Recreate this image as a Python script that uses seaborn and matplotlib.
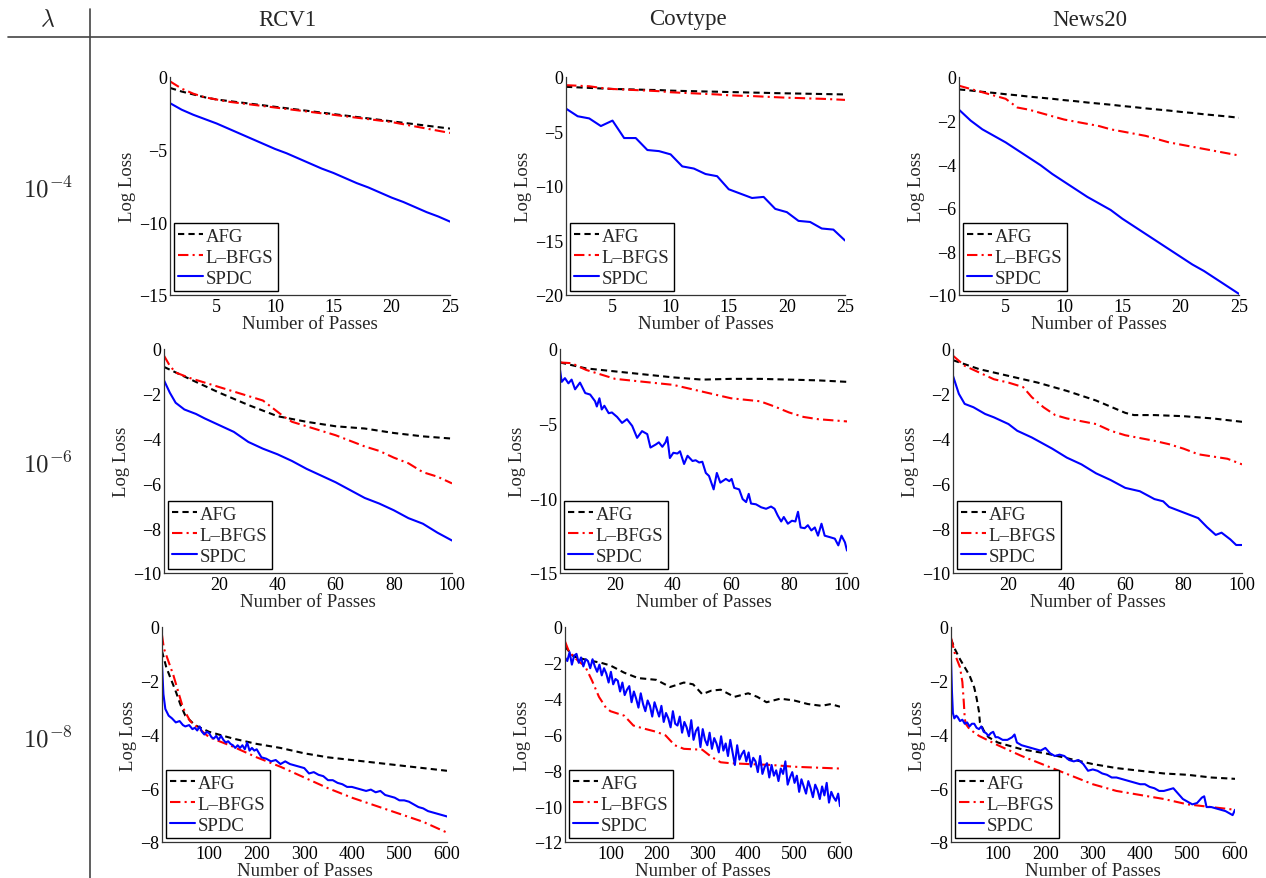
import numpy as np
import pandas as pd
import matplotlib
matplotlib.use("Agg")
import matplotlib.pyplot as plt
from matplotlib.lines import Line2D
import seaborn as sns

sns.set_theme(style="white")
plt.rcParams["font.family"] = ["Liberation Serif", "DejaVu Serif"]
plt.rcParams["mathtext.fontset"] = "cm"

# --- labels ---
datasets = ["RCV1", "Covtype", "News20"]
lambda_labels = [r"$10^{-4}$", r"$10^{-6}$", r"$10^{-8}$"]
methods = ["AFG", "L–BFGS", "SPDC"]
colors = {"AFG": "#000000", "L–BFGS": "#ff0000", "SPDC": "#0000ff"}
dashes = {"AFG": (3, 2), "L–BFGS": (5, 2, 1, 2), "SPDC": ""}

# --- lambda = 1e-4 (passes 1..25) ---
x_25 = list(range(1, 26))
rcv1_4_afg = [-0.75, -1.0, -1.2, -1.4, -1.55, -1.65, -1.75, -1.85, -1.95, -2.05, -2.15, -2.25, -2.35,
              -2.45, -2.55, -2.65, -2.75, -2.85, -2.95, -3.05, -3.15, -3.25, -3.35, -3.45, -3.55]
rcv1_4_lbfgs = [-0.3, -0.8, -1.15, -1.4, -1.55, -1.7, -1.8, -1.9, -2.0, -2.1, -2.2, -2.3, -2.4,
                -2.5, -2.6, -2.7, -2.8, -2.9, -3.0, -3.1, -3.25, -3.4, -3.55, -3.7, -3.85]
rcv1_4_spdc = [-1.8, -2.25, -2.6, -2.9, -3.2, -3.55, -3.9, -4.25, -4.6, -4.95, -5.25, -5.6, -5.95,
               -6.3, -6.6, -6.95, -7.3, -7.6, -7.95, -8.3, -8.6, -8.95, -9.3, -9.6, -9.95]
cov_4_afg = [-0.9, -0.95, -1.0, -1.05, -1.1, -1.12, -1.15, -1.18, -1.2, -1.25, -1.28, -1.3, -1.33,
             -1.35, -1.38, -1.4, -1.43, -1.45, -1.48, -1.5, -1.52, -1.54, -1.56, -1.58, -1.6]
cov_4_lbfgs = [-0.75, -0.8, -0.85, -1.0, -1.1, -1.15, -1.2, -1.25, -1.3, -1.4, -1.45, -1.5, -1.55,
               -1.6, -1.68, -1.72, -1.75, -1.8, -1.85, -1.9, -1.93, -1.97, -2.0, -2.05, -2.1]
cov_4_spdc = [-2.9, -3.6, -3.8, -4.5, -4.0, -5.6, -5.6, -6.7, -6.8, -7.1, -8.2, -8.4, -8.9,
              -9.1, -10.3, -10.7, -11.1, -11.0, -12.1, -12.4, -13.2, -13.3, -13.9, -14.0, -15.0]
news_4_afg = [-0.57, -0.62, -0.68, -0.73, -0.79, -0.84, -0.9, -0.95, -1.0, -1.06, -1.11, -1.17, -1.22,
              -1.27, -1.33, -1.38, -1.44, -1.49, -1.54, -1.6, -1.65, -1.71, -1.76, -1.81, -1.87]
news_4_lbfgs = [-0.4, -0.55, -0.7, -0.85, -1.0, -1.4, -1.5, -1.65, -1.8, -1.95, -2.05, -2.15, -2.25,
                -2.4, -2.5, -2.6, -2.7, -2.85, -3.0, -3.1, -3.2, -3.3, -3.4, -3.5, -3.6]
news_4_spdc = [-1.5, -2.0, -2.4, -2.7, -3.0, -3.35, -3.7, -4.05, -4.45, -4.8, -5.15, -5.5, -5.8,
               -6.1, -6.5, -6.85, -7.2, -7.55, -7.9, -8.25, -8.6, -8.9, -9.25, -9.6, -9.95]

# --- lambda = 1e-6 (passes 1..100) ---
rcv1_6_afg_x = [1, 10, 20, 30, 40, 50, 60, 70, 80, 90, 100]
rcv1_6_afg = [-0.8, -1.35, -1.95, -2.5, -3.0, -3.25, -3.45, -3.55, -3.75, -3.9, -4.0]
rcv1_6_lbfgs_x = [1, 3, 5, 10, 15, 20, 25, 30, 35, 38, 42, 45, 50, 55, 60, 65, 70, 75, 80, 85, 90, 95, 100]
rcv1_6_lbfgs = [-0.3, -0.75, -1.05, -1.3, -1.5, -1.7, -1.9, -2.1, -2.3, -2.6, -3.0, -3.25, -3.45,
                -3.65, -3.85, -4.1, -4.35, -4.55, -4.85, -5.1, -5.5, -5.7, -6.0]
rcv1_6_spdc_x = [1, 3, 5, 8, 12, 15, 20, 25, 30, 35, 40, 45, 50, 55, 60, 65, 70, 75, 80, 85, 90, 95, 100]
rcv1_6_spdc = [-1.4, -1.95, -2.4, -2.7, -2.9, -3.1, -3.4, -3.7, -4.15, -4.45, -4.7, -5.0, -5.35,
               -5.65, -5.95, -6.3, -6.65, -6.9, -7.2, -7.55, -7.8, -8.2, -8.55]
cov_6_afg_x = [1, 10, 20, 30, 40, 50, 60, 70, 80, 90, 100]
cov_6_afg = [-0.9, -1.3, -1.5, -1.7, -1.9, -2.05, -2.0, -2.0, -2.05, -2.1, -2.2]
cov_6_lbfgs_x = [1, 5, 10, 20, 30, 40, 50, 60, 70, 75, 80, 85, 90, 100]
cov_6_lbfgs = [-0.9, -0.95, -1.4, -2.0, -2.2, -2.4, -2.85, -3.3, -3.5, -3.85, -4.25, -4.55, -4.7, -4.85]
cov_6_spdc_x = [1, 1.6, 2.7, 3.9, 5, 6.2, 7.9, 9.7, 11.4, 13.1, 13.7, 14.6, 15.4, 16.3, 17.8, 18.9,
                20.7, 22.4, 24.1, 25.9, 27.6, 29.3, 31.1, 32.2, 34, 35.1, 36.3, 37.4, 38, 38.9, 40.1,
                41.5, 42.4, 43.8, 45, 46.7, 47.8, 49, 50.1, 51.3, 52.4, 54, 55.1, 56.3, 58.2, 59.4,
                60.2, 61.1, 62.8, 64, 65.2, 66.1, 66.9, 68.6, 70.4, 72.1, 73.8, 75, 76.1, 77.3, 78.2,
                79.6, 81, 82.2, 83.1, 84, 85.4, 86.5, 87.7, 88.9, 90, 91.2, 92.3, 94.1, 95.8, 97,
                98.1, 99.3, 100]
cov_6_spdc = [-1.4, -2.2, -1.95, -2.3, -2.05, -2.7, -2.25, -2.95, -3.05, -3.5, -3.85, -3.3, -4.05,
              -3.8, -4.3, -4.25, -4.55, -4.95, -4.7, -5.15, -5.95, -5.5, -5.7, -6.6, -6.4, -6.25,
              -6.55, -6.25, -5.9, -7.3, -6.95, -7.0, -6.85, -7.7, -7.15, -7.5, -7.45, -7.6, -7.55,
              -8.3, -8.5, -9.4, -8.3, -8.95, -8.7, -8.85, -8.7, -9.3, -9.4, -10.05, -10.25, -9.7,
              -10.35, -10.4, -10.6, -10.7, -10.55, -10.7, -11.15, -11.55, -11.25, -11.7, -11.5,
              -11.55, -10.9, -11.95, -12.0, -11.8, -12.15, -11.95, -12.5, -11.7, -12.5, -12.6,
              -12.7, -13.15, -12.5, -12.95, -13.5]
news_6_afg_x = [1, 10, 20, 30, 40, 50, 60, 63, 70, 80, 90, 100]
news_6_afg = [-0.5, -0.9, -1.2, -1.5, -1.87, -2.3, -2.85, -2.95, -2.95, -3.0, -3.1, -3.25]
news_6_lbfgs_x = [1, 5, 10, 15, 20, 25, 28, 32, 36, 40, 50, 55, 60, 70, 75, 80, 85, 90, 95, 100]
news_6_lbfgs = [-0.3, -0.75, -1.05, -1.35, -1.5, -1.7, -2.15, -2.6, -2.95, -3.1, -3.35, -3.65, -3.85,
                -4.1, -4.25, -4.45, -4.7, -4.8, -4.9, -5.15]
news_6_spdc_x = [1, 3, 5, 8, 12, 15, 20, 23, 28, 35, 40, 45, 50, 55, 60, 65, 70, 73, 75, 80, 85, 88,
                 91, 93, 96, 98, 100]
news_6_spdc = [-1.2, -2.0, -2.45, -2.6, -2.9, -3.05, -3.35, -3.65, -3.95, -4.45, -4.85, -5.15, -5.55,
               -5.85, -6.2, -6.35, -6.7, -6.8, -7.05, -7.3, -7.55, -7.95, -8.3, -8.2, -8.5, -8.75, -8.75]

# --- lambda = 1e-8 (passes 1..600) ---
rcv1_8_afg_x = [1, 10, 20, 30, 40, 50, 70, 100, 150, 200, 250, 300, 350, 400, 450, 500, 550, 600]
rcv1_8_afg = [-0.9, -1.5, -1.95, -2.4, -2.9, -3.3, -3.65, -3.9, -4.15, -4.35, -4.5, -4.7, -4.85,
              -4.95, -5.05, -5.15, -5.25, -5.35]
rcv1_8_lbfgs_x = [1, 5, 15, 25, 35, 45, 60, 80, 100, 150, 200, 250, 300, 350, 400, 450, 500, 550, 600]
rcv1_8_lbfgs = [-0.3, -0.8, -1.3, -1.8, -2.4, -3.0, -3.5, -3.8, -4.1, -4.45, -4.85, -5.2, -5.6, -6.0,
                -6.35, -6.65, -6.95, -7.25, -7.65]
rcv1_8_spdc_x = [1, 4, 8, 15, 22, 30, 38, 45, 50, 58, 65, 70, 75, 80, 85, 90, 95, 100, 105, 110, 115,
                 120, 125, 130, 135, 140, 145, 150, 155, 160, 165, 170, 175, 180, 185, 190, 195, 200,
                 210, 220, 230, 240, 250, 260, 270, 280, 290, 300, 310, 320, 330, 340, 350, 360, 370,
                 380, 390, 400, 410, 420, 430, 440, 450, 460, 470, 480, 490, 500, 510, 520, 530, 540,
                 550, 560, 570, 580, 590, 600]
rcv1_8_spdc = [-1.4, -2.5, -3.05, -3.3, -3.4, -3.55, -3.5, -3.65, -3.7, -3.65, -3.8, -3.75, -3.85,
               -3.7, -3.9, -4.0, -3.9, -3.95, -4.1, -4.15, -4.05, -4.2, -4.05, -4.2, -4.3, -4.25,
               -4.35, -4.4, -4.5, -4.4, -4.5, -4.4, -4.55, -4.3, -4.6, -4.5, -4.6, -4.55, -4.85,
               -4.9, -5.0, -4.95, -5.1, -5.0, -5.1, -5.15, -5.2, -5.25, -5.45, -5.4, -5.5, -5.55,
               -5.7, -5.7, -5.8, -5.85, -5.95, -5.95, -6.0, -6.05, -6.1, -6.05, -6.15, -6.1, -6.25,
               -6.3, -6.35, -6.45, -6.45, -6.5, -6.6, -6.7, -6.75, -6.85, -6.9, -6.95, -7.0, -7.05]
cov_8_afg_x = [1, 20, 50, 80, 100, 130, 160, 200, 230, 260, 280, 300, 320, 340, 370, 400, 420, 440,
               470, 500, 530, 560, 580, 600]
cov_8_afg = [-1.1, -1.65, -1.85, -2.0, -2.15, -2.55, -2.85, -2.95, -3.35, -3.1, -3.2, -3.75, -3.55,
             -3.5, -3.9, -3.7, -3.9, -4.2, -4.0, -4.1, -4.3, -4.4, -4.3, -4.45]
cov_8_lbfgs_x = [1, 10, 30, 45, 60, 75, 90, 100, 130, 150, 170, 200, 220, 240, 260, 300, 320, 340,
                 360, 400, 450, 500, 550, 600]
cov_8_lbfgs = [-0.8, -1.4, -1.9, -2.2, -3.0, -3.9, -4.5, -4.7, -4.95, -5.5, -5.65, -5.85, -6.05, -6.6,
               -6.8, -6.85, -7.25, -7.55, -7.6, -7.65, -7.7, -7.8, -7.85, -7.9]
cov_8_spdc_x = list(range(1, 600, 5)) + [600]
cov_8_spdc = [-1.7, -1.9, -1.4, -2.1, -1.6, -1.5, -2.0, -1.7, -2.2, -1.8,
              -1.9, -2.3, -1.8, -2.2, -2.5, -2.1, -2.7, -2.3, -2.6, -3.1,
              -2.5, -3.2, -2.9, -3.0, -3.6, -3.1, -3.8, -3.5, -3.3, -4.2,
              -3.6, -4.0, -4.5, -3.7, -4.3, -4.7, -4.1, -4.4, -5.0, -4.2,
              -4.6, -5.0, -4.4, -5.3, -4.8, -5.1, -5.6, -4.7, -5.4, -5.5,
              -5.0, -5.9, -5.3, -5.6, -6.1, -5.2, -6.3, -5.8, -5.6, -6.7,
              -5.7, -6.3, -6.6, -5.9, -6.8, -6.2, -6.5, -7.0, -6.1, -6.9,
              -6.5, -7.2, -6.3, -7.0, -7.7, -6.6, -7.4, -7.1, -6.9, -7.5,
              -7.0, -7.8, -7.3, -7.5, -8.1, -7.2, -8.2, -7.8, -7.6, -8.4,
              -7.7, -8.3, -8.0, -8.6, -7.9, -8.2, -7.5, -8.8, -8.4, -8.1,
              -8.7, -8.3, -9.2, -8.5, -8.9, -9.3, -8.6, -9.0, -9.5, -8.8,
              -9.1, -9.6, -8.9, -9.4, -8.7, -9.8, -9.2, -9.5, -9.7, -9.3,
              -10.0]
news_8_afg_x = [1, 10, 20, 30, 40, 50, 55, 60, 62, 70, 80, 100, 150, 200, 250, 300, 350, 400, 450,
                500, 550, 600]
news_8_afg = [-0.45, -0.85, -1.2, -1.5, -1.8, -2.25, -2.65, -3.15, -3.55, -3.85, -4.1, -4.3, -4.55,
              -4.7, -4.9, -5.1, -5.25, -5.35, -5.45, -5.5, -5.6, -5.65]
news_8_lbfgs_x = [1, 10, 20, 25, 28, 30, 32, 40, 60, 100, 150, 200, 250, 300, 350, 400, 450, 500, 550, 600]
news_8_lbfgs = [-0.4, -1.05, -1.5, -2.05, -2.8, -3.4, -3.6, -3.8, -4.05, -4.4, -4.8, -5.15, -5.5,
                -5.85, -6.1, -6.25, -6.4, -6.6, -6.7, -6.8]
news_8_spdc_x = [1, 3, 5, 8, 12, 15, 20, 25, 30, 35, 40, 45, 50, 55, 60, 65, 70, 75, 80, 85, 90, 95,
                 100, 110, 120, 130, 135, 140, 150, 160, 170, 180, 190, 200, 210, 220, 230, 240, 250,
                 260, 270, 280, 290, 300, 310, 320, 330, 340, 350, 360, 370, 380, 390, 400, 410, 420,
                 430, 440, 450, 460, 470, 480, 490, 500, 510, 520, 530, 535, 540, 550, 560, 570, 580,
                 590, 595, 600]
news_8_spdc = [-1.2, -2.4, -3.2, -3.4, -3.3, -3.35, -3.5, -3.45, -3.6, -3.55, -3.7, -3.6, -3.6, -3.75,
               -3.8, -3.7, -3.9, -3.95, -4.05, -3.95, -3.9, -4.1, -4.1, -4.2, -4.2, -4.1, -4.0, -4.3,
               -4.4, -4.45, -4.5, -4.55, -4.6, -4.5, -4.7, -4.8, -4.75, -4.8, -4.95, -5.0, -4.95,
               -5.1, -5.35, -5.3, -5.35, -5.45, -5.5, -5.6, -5.6, -5.65, -5.7, -5.75, -5.8, -5.85,
               -5.85, -5.95, -6.0, -6.1, -6.1, -6.05, -6.0, -6.2, -6.4, -6.5, -6.6, -6.55, -6.35,
               -6.3, -6.7, -6.7, -6.75, -6.8, -6.85, -6.95, -7.0, -6.8]

# --- assemble panels (row = lambda, col = dataset) ---
panels = {
    (0, 0): [(x_25, rcv1_4_afg), (x_25, rcv1_4_lbfgs), (x_25, rcv1_4_spdc)],
    (0, 1): [(x_25, cov_4_afg), (x_25, cov_4_lbfgs), (x_25, cov_4_spdc)],
    (0, 2): [(x_25, news_4_afg), (x_25, news_4_lbfgs), (x_25, news_4_spdc)],
    (1, 0): [(rcv1_6_afg_x, rcv1_6_afg), (rcv1_6_lbfgs_x, rcv1_6_lbfgs), (rcv1_6_spdc_x, rcv1_6_spdc)],
    (1, 1): [(cov_6_afg_x, cov_6_afg), (cov_6_lbfgs_x, cov_6_lbfgs), (cov_6_spdc_x, cov_6_spdc)],
    (1, 2): [(news_6_afg_x, news_6_afg), (news_6_lbfgs_x, news_6_lbfgs), (news_6_spdc_x, news_6_spdc)],
    (2, 0): [(rcv1_8_afg_x, rcv1_8_afg), (rcv1_8_lbfgs_x, rcv1_8_lbfgs), (rcv1_8_spdc_x, rcv1_8_spdc)],
    (2, 1): [(cov_8_afg_x, cov_8_afg), (cov_8_lbfgs_x, cov_8_lbfgs), (cov_8_spdc_x, cov_8_spdc)],
    (2, 2): [(news_8_afg_x, news_8_afg), (news_8_lbfgs_x, news_8_lbfgs), (news_8_spdc_x, news_8_spdc)],
}

x_max = [25, 100, 600]
x_ticks = [[5, 10, 15, 20, 25], [20, 40, 60, 80, 100], [100, 200, 300, 400, 500, 600]]
y_min = [[-15, -20, -10], [-10, -15, -10], [-8, -12, -8]]
y_step = [[5, 5, 2], [2, 5, 2], [2, 2, 2]]

# layout in pixels
W, H = 1266, 879
row_tb = [(78, 296), (350, 574), (628, 843)]
col_lr = [[(170, 450), (566, 845), (959, 1239)],
          [(164, 452), (560, 847), (953, 1242)],
          [(162, 447), (565, 840), (951, 1235)]]

fig = plt.figure(figsize=(W / 100, H / 100), dpi=100)

for (r, c), series in panels.items():
    top, bot = row_tb[r]
    left, right = col_lr[r][c]
    ax = fig.add_axes([left / W, 1 - bot / H, (right - left) / W, (bot - top) / H])
    frames = []
    for m, (xs, ys) in zip(methods, series):
        frames.append(pd.DataFrame({"passes": xs, "loss": ys, "method": m}))
    df = pd.concat(frames, ignore_index=True)
    sns.lineplot(data=df, x="passes", y="loss", hue="method", style="method",
                 palette=colors, dashes=dashes, hue_order=methods, style_order=methods,
                 estimator=None, sort=False, linewidth=1.5, ax=ax)
    ax.set_xlim(1, x_max[r])
    ax.set_ylim(y_min[r][c], 0)
    ax.set_xticks(x_ticks[r])
    ax.set_yticks(np.arange(y_min[r][c], 0.1, y_step[r][c]))
    ax.tick_params(direction="in", length=4, width=0.8, pad=2, labelsize=13, colors="black")
    for s in ["top", "right"]:
        ax.spines[s].set_visible(False)
    for s in ["left", "bottom"]:
        ax.spines[s].set_color("#333333")
        ax.spines[s].set_linewidth(0.9)
    ax.set_xlabel("Number of Passes", fontsize=13.5, labelpad=0)
    ax.set_ylabel("Log Loss", fontsize=13.5, labelpad=2)
    handles, labels = ax.get_legend_handles_labels()
    leg = ax.legend(handles, labels, loc="lower left", fontsize=13.5, frameon=True,
                    fancybox=False, edgecolor="black", framealpha=1, handlelength=1.3,
                    handletextpad=0.15, borderpad=0.25, labelspacing=0.2, borderaxespad=0.2)
    leg.get_frame().set_linewidth(1.0)

# header row and row labels
fig.text(48 / W, 1 - 20 / H, r"$\lambda$", ha="center", va="center", fontsize=17)
for x, name in zip([287, 688, 1090], datasets):
    fig.text(x / W, 1 - 20 / H, name, ha="center", va="center", fontsize=16.5)
for y, lab in zip([190, 465, 740], lambda_labels):
    fig.text(48 / W, 1 - y / H, lab, ha="center", va="center", fontsize=18)

fig.add_artist(Line2D([8 / W, 1], [1 - 38 / H, 1 - 38 / H], transform=fig.transFigure,
                      color="#444444", linewidth=1.2))
fig.add_artist(Line2D([90 / W, 90 / W], [1 - 10 / H, 0], transform=fig.transFigure,
                      color="#444444", linewidth=1.2))

fig.savefig("out.png", dpi=100)
